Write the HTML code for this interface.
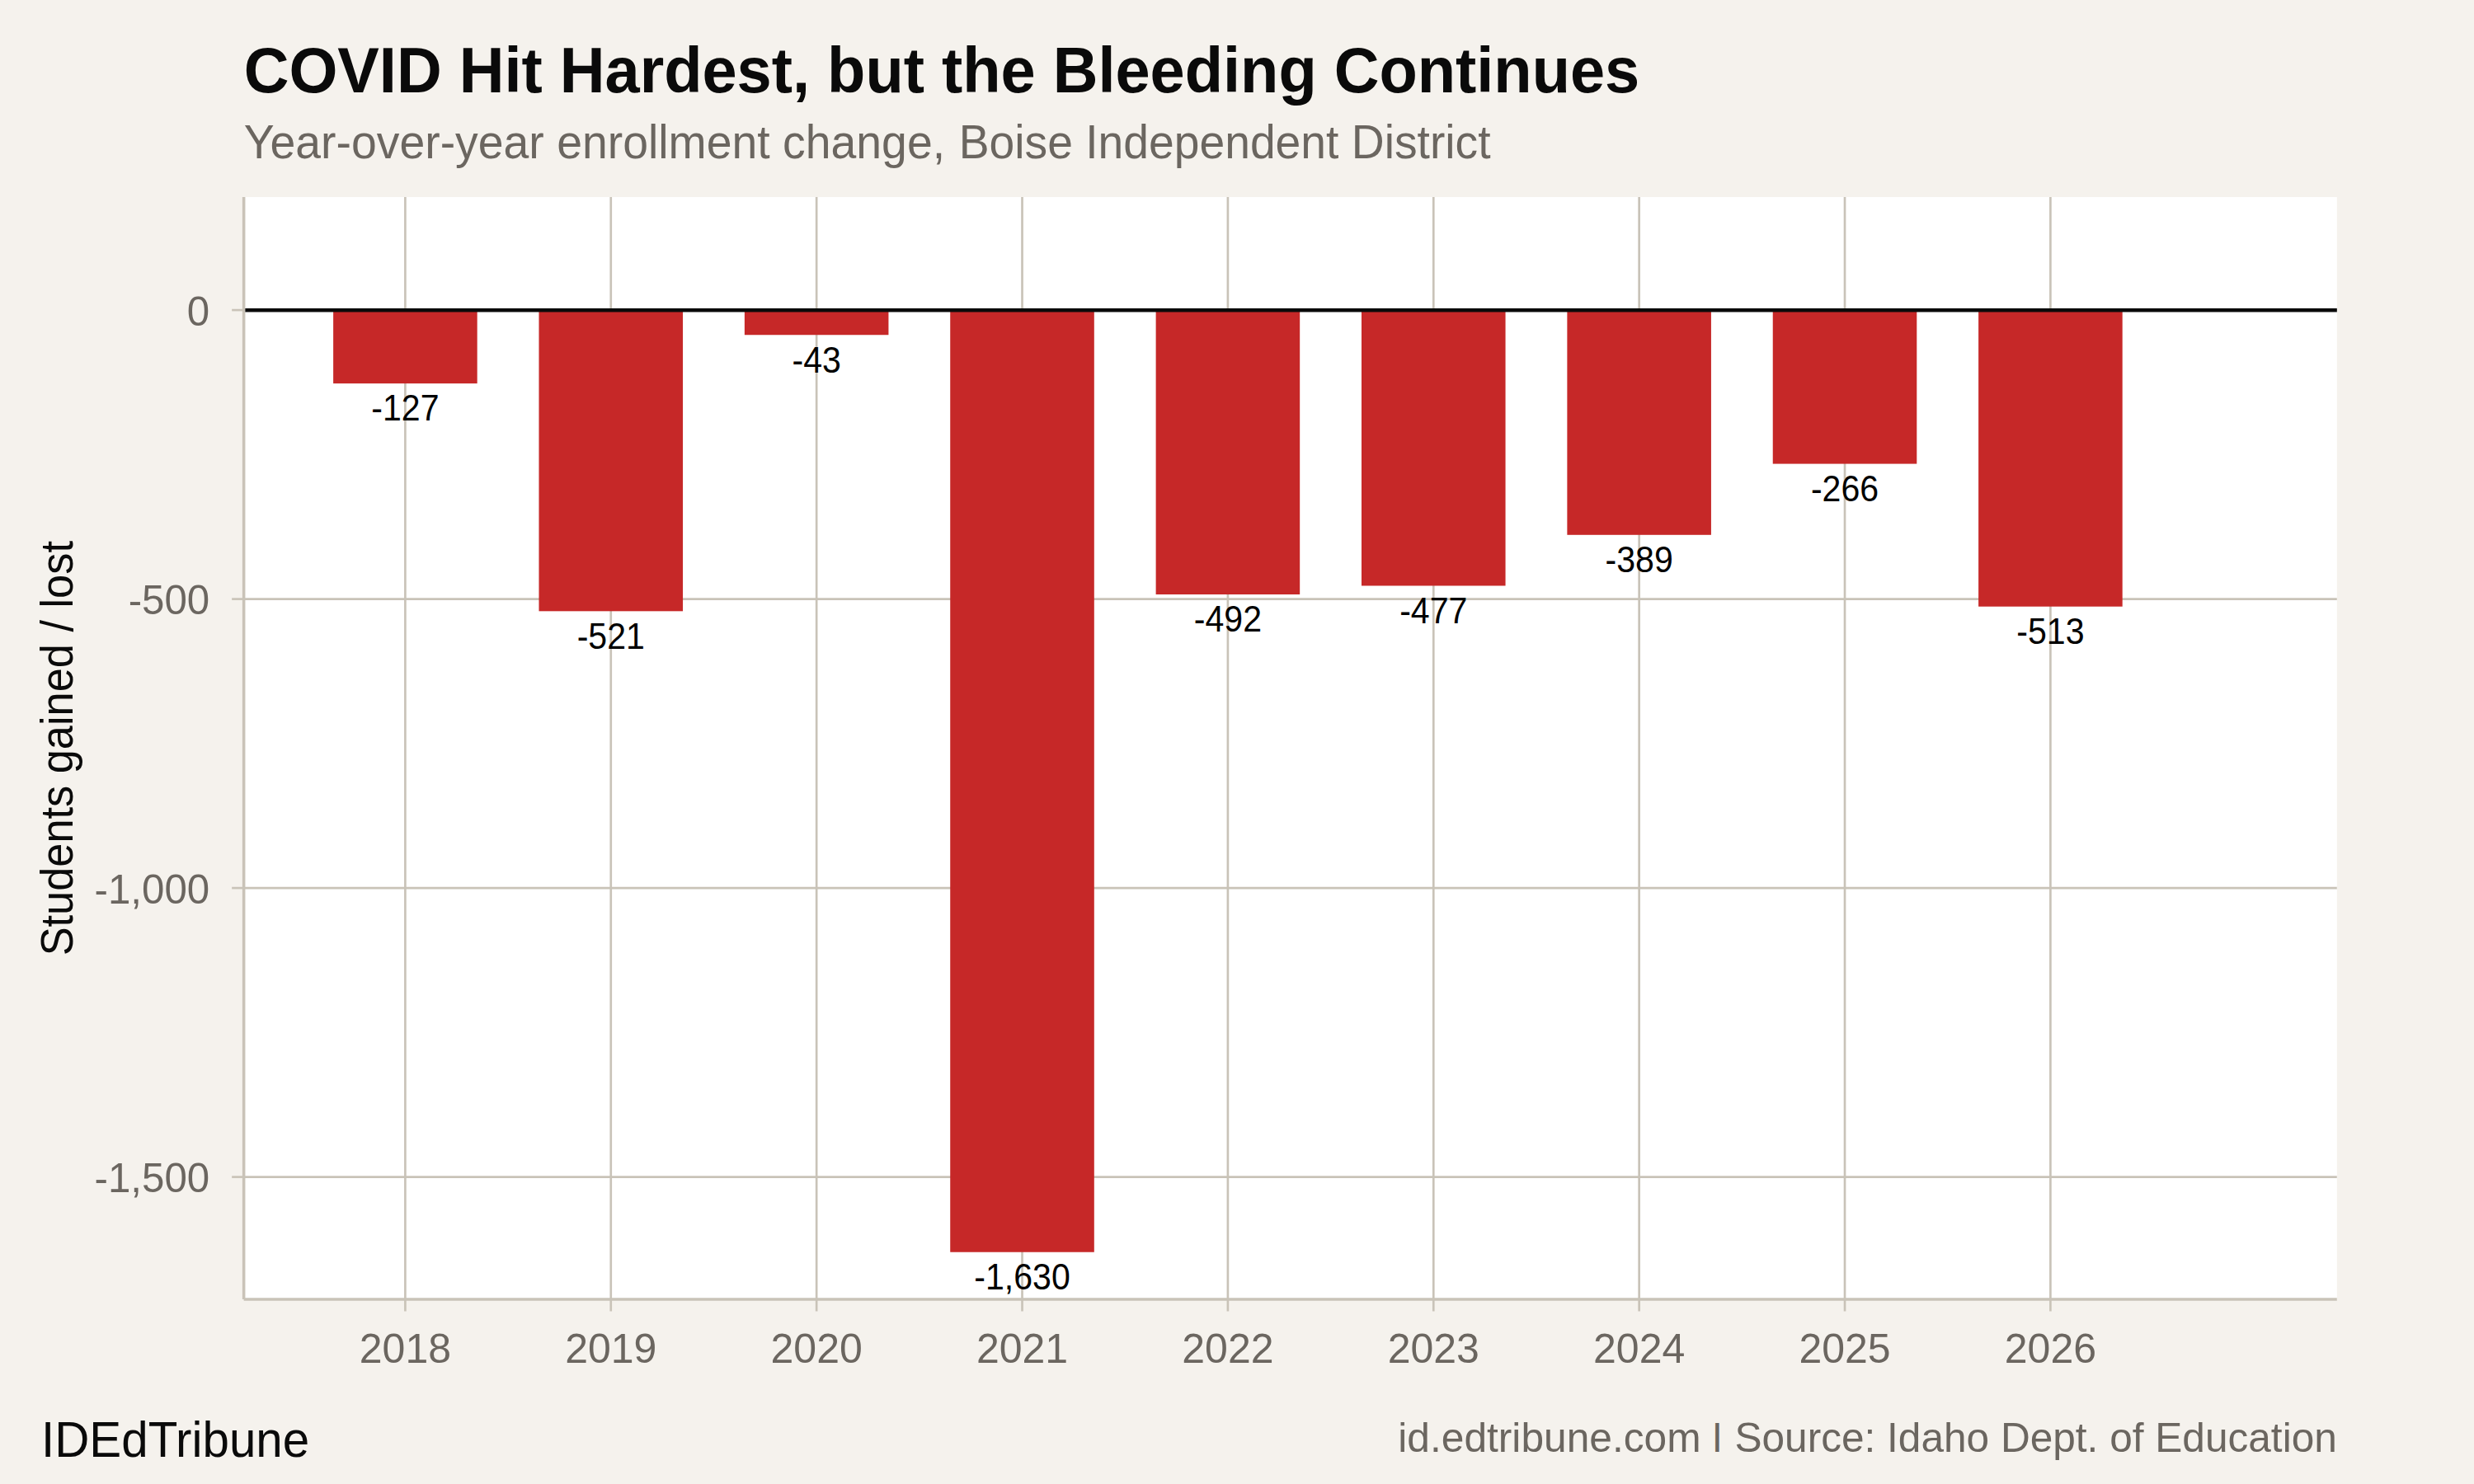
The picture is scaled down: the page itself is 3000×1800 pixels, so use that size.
<!DOCTYPE html>
<html lang="en">
<head>
<meta charset="utf-8">
<title>COVID Hit Hardest, but the Bleeding Continues</title>
<style>
html,body{margin:0;padding:0;background:#F5F2ED;}
body{width:3000px;height:1800px;overflow:hidden;}
svg{display:block;}
text{font-family:"Liberation Sans",Arial,Helvetica,sans-serif;}
</style>
</head>
<body>
<svg width="3000" height="1800" viewBox="0 0 3000 1800">
<rect x="0" y="0" width="3000" height="1800" fill="#F5F2ED"/>
<!-- panel -->
<rect x="295.65" y="239" width="2538.15" height="1337" fill="#FFFFFF"/>
<!-- gridlines -->
<g stroke="#C9C3B8" stroke-width="2.67" fill="none">
<line x1="295.65" y1="376.1" x2="2833.8" y2="376.1"/>
<line x1="295.65" y1="726.6" x2="2833.8" y2="726.6"/>
<line x1="295.65" y1="1077.1" x2="2833.8" y2="1077.1"/>
<line x1="295.65" y1="1427.6" x2="2833.8" y2="1427.6"/>
<line x1="491.4" y1="239" x2="491.4" y2="1576"/>
<line x1="740.77" y1="239" x2="740.77" y2="1576"/>
<line x1="990.15" y1="239" x2="990.15" y2="1576"/>
<line x1="1239.53" y1="239" x2="1239.53" y2="1576"/>
<line x1="1488.9" y1="239" x2="1488.9" y2="1576"/>
<line x1="1738.28" y1="239" x2="1738.28" y2="1576"/>
<line x1="1987.65" y1="239" x2="1987.65" y2="1576"/>
<line x1="2237.03" y1="239" x2="2237.03" y2="1576"/>
<line x1="2486.4" y1="239" x2="2486.4" y2="1576"/>
</g>
<!-- bars -->
<g fill="#C62828">
<rect x="404.12" y="376.1" width="174.56" height="89.03"/>
<rect x="653.49" y="376.1" width="174.56" height="365.22"/>
<rect x="902.87" y="376.1" width="174.56" height="30.14"/>
<rect x="1152.24" y="376.1" width="174.56" height="1142.63"/>
<rect x="1401.62" y="376.1" width="174.56" height="344.89"/>
<rect x="1650.99" y="376.1" width="174.56" height="334.38"/>
<rect x="1900.37" y="376.1" width="174.56" height="272.69"/>
<rect x="2149.74" y="376.1" width="174.56" height="186.47"/>
<rect x="2399.12" y="376.1" width="174.56" height="359.61"/>
</g>
<!-- zero line -->
<line x1="295.65" y1="376.2" x2="2833.8" y2="376.2" stroke="#0A0A0A" stroke-width="4.6"/>
<!-- bar value labels -->
<g font-size="43.6" fill="#000000" text-anchor="middle">
<text transform="translate(491.4 510.43) scale(0.942 1)">-127</text>
<text transform="translate(740.77 786.62) scale(0.942 1)">-521</text>
<text transform="translate(990.15 451.54) scale(0.942 1)">-43</text>
<text transform="translate(1239.53 1564.03) scale(0.942 1)">-1,630</text>
<text transform="translate(1488.9 766.29) scale(0.942 1)">-492</text>
<text transform="translate(1738.28 755.78) scale(0.942 1)">-477</text>
<text transform="translate(1987.65 694.09) scale(0.942 1)">-389</text>
<text transform="translate(2237.03 607.87) scale(0.942 1)">-266</text>
<text transform="translate(2486.4 781.01) scale(0.942 1)">-513</text>
</g>
<!-- axis ticks and lines -->
<g stroke="#C9C3B8" stroke-width="2.67" fill="none">
<line x1="281.15" y1="376.1" x2="295.65" y2="376.1"/>
<line x1="281.15" y1="726.6" x2="295.65" y2="726.6"/>
<line x1="281.15" y1="1077.1" x2="295.65" y2="1077.1"/>
<line x1="281.15" y1="1427.6" x2="295.65" y2="1427.6"/>
<line x1="491.4" y1="1576" x2="491.4" y2="1590.5"/>
<line x1="740.77" y1="1576" x2="740.77" y2="1590.5"/>
<line x1="990.15" y1="1576" x2="990.15" y2="1590.5"/>
<line x1="1239.53" y1="1576" x2="1239.53" y2="1590.5"/>
<line x1="1488.9" y1="1576" x2="1488.9" y2="1590.5"/>
<line x1="1738.28" y1="1576" x2="1738.28" y2="1590.5"/>
<line x1="1987.65" y1="1576" x2="1987.65" y2="1590.5"/>
<line x1="2237.03" y1="1576" x2="2237.03" y2="1590.5"/>
<line x1="2486.4" y1="1576" x2="2486.4" y2="1590.5"/>
</g>
<g stroke="#C9C3B8" stroke-width="3.56" fill="none">
<line x1="295.65" y1="239" x2="295.65" y2="1576"/>
<line x1="295.65" y1="1576" x2="2833.8" y2="1576"/>
</g>
<!-- axis labels -->
<g font-size="50" fill="#6B6660" text-anchor="end">
<text transform="translate(254.2 394.6) scale(0.985 1)">0</text>
<text transform="translate(254.2 745.1) scale(0.985 1)">-500</text>
<text transform="translate(254.2 1095.6) scale(0.985 1)">-1,000</text>
<text transform="translate(254.2 1446.1) scale(0.985 1)">-1,500</text>
</g>
<g font-size="50" fill="#6B6660" text-anchor="middle">
<text transform="translate(491.4 1652.9) scale(1 1)">2018</text>
<text transform="translate(740.77 1652.9) scale(1 1)">2019</text>
<text transform="translate(990.15 1652.9) scale(1 1)">2020</text>
<text transform="translate(1239.53 1652.9) scale(1 1)">2021</text>
<text transform="translate(1488.9 1652.9) scale(1 1)">2022</text>
<text transform="translate(1738.28 1652.9) scale(1 1)">2023</text>
<text transform="translate(1987.65 1652.9) scale(1 1)">2024</text>
<text transform="translate(2237.03 1652.9) scale(1 1)">2025</text>
<text transform="translate(2486.4 1652.9) scale(1 1)">2026</text>
</g>
<text transform="translate(88.2 907.7) rotate(-90) scale(0.9345 1)" font-size="56" fill="#0A0A0A" text-anchor="middle">Students gained / lost</text>
<!-- title block -->
<text transform="translate(295.65 111.6) scale(0.978 1)" font-size="77.5" font-weight="bold" fill="#0A0A0A">COVID Hit Hardest, but the Bleeding Continues</text>
<g font-size="57.2" fill="#6B6660">
<text transform="translate(295.65 192) scale(0.9682 1)">Year-over-year enrollment change,</text>
<text transform="translate(1162.7 192) scale(0.966 1)">Boise Independent District</text>
</g>
<!-- footer -->
<text transform="translate(50 1767.2) scale(0.9642 1)" font-size="60.5" fill="#0A0A0A">IDEdTribune</text>
<g font-size="49.5" fill="#6B6660">
<text transform="translate(1695.3 1761) scale(1.004 1)">id.edtribune.com</text>
<text transform="translate(2082.3 1752.7) scale(1.1 0.74)" text-anchor="middle">|</text>
<text transform="translate(2833.8 1761) scale(1.0018 1)" text-anchor="end">Source: Idaho Dept. of Education</text>
</g>
</svg>
</body>
</html>
